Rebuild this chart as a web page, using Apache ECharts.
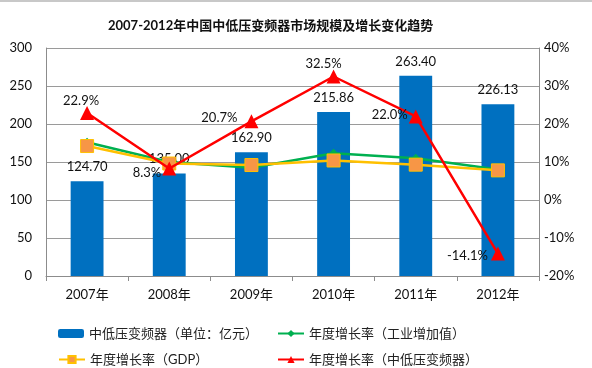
<!DOCTYPE html>
<html><head><meta charset="utf-8">
<script src="https://cdn.jsdelivr.net/npm/echarts@6/dist/echarts.min.js"></script>
<style>html,body{margin:0;padding:0;background:#fff}#c{width:592px;height:368px;border-top:2px solid #c8c8c8;box-sizing:border-box}</style>
</head><body><div id="c"></div>
<script>
const categories = ['2007年','2008年','2009年','2010年','2011年','2012年'];
const marketSize = [124.70, 135.00, 162.90, 215.86, 263.40, 226.13];
const growthIndustry = [15.2, 10.0, 8.5, 12.3, 11.0, 8.0];
const growthGDP = [14.2, 9.6, 9.2, 10.4, 9.3, 7.8];
const growthInverter = [22.9, 8.3, 20.7, 32.5, 22.0, -14.1];
const leftTicks = {min: 0, max: 300, interval: 50};
const rightTicks = {min: -20, max: 40, interval: 10};

const names = ['中低压变频器（单位：亿元）','年度增长率（工业增加值）','年度增长率（GDP）','年度增长率（中低压变频器）'];
const FONT = 'Lato, "Noto Sans CJK SC", sans-serif';
const chart = echarts.init(document.getElementById('c'));
const redLabelPos = ['top','left','left','top','left','left'];
const redLabelOff = [[-6,6],[4,4],[-2,-4],[-10,6],[4,-2],[2,2]];
const legendItem = (name, left, top) => ({
  data: [name], left, top, itemWidth: 26, itemHeight: 9, itemGap: 4,
  textStyle: {fontSize: 13, color: '#222', fontFamily: FONT}
});
chart.setOption({
  animation: false,
  textStyle: {fontFamily: FONT},
  title: {text: '2007-2012年中国中低压变频器市场规模及增长变化趋势', left: 103, top: 12,
    textStyle: {fontSize: 13, fontWeight: 'bold', color: '#111', fontFamily: FONT}},
  grid: {left: 46, right: 53, top: 46, bottom: 92},
  legend: [
    legendItem(names[0], 53, 320),
    legendItem(names[1], 272, 320),
    legendItem(names[2], 53, 346),
    legendItem(names[3], 272, 346)
  ],
  xAxis: {type: 'category', data: categories,
    axisLine: {lineStyle: {color: '#8c8c8c'}},
    axisTick: {show: true, length: 5, lineStyle: {color: '#8c8c8c'}},
    axisLabel: {color: '#111', fontSize: 13, margin: 12, fontFamily: FONT}},
  yAxis: [
    {type: 'value', min: leftTicks.min, max: leftTicks.max, interval: leftTicks.interval,
     axisLine: {show: true, lineStyle: {color: '#8c8c8c'}},
     axisTick: {show: false},
     splitLine: {lineStyle: {color: '#9a9a9a', width: 1}},
     axisLabel: {color: '#111', fontSize: 13, margin: 14, fontFamily: FONT}},
    {type: 'value', min: rightTicks.min, max: rightTicks.max, interval: rightTicks.interval,
     position: 'right',
     axisLine: {show: true, lineStyle: {color: '#8c8c8c'}},
     axisTick: {show: false},
     splitLine: {show: false},
     axisLabel: {color: '#111', fontSize: 13, margin: 5, formatter: '{value}%', fontFamily: FONT}}
  ],
  series: [
    {name: names[0], type: 'bar', data: marketSize, barWidth: '40%',
     itemStyle: {color: '#0070C0'},
     label: {show: true, position: 'top', formatter: p => p.value.toFixed(2),
       color: '#111', fontSize: 13, distance: 8, fontFamily: FONT}},
    {name: names[1], type: 'line', yAxisIndex: 1, data: growthIndustry,
     symbol: 'diamond', symbolSize: 9, lineStyle: {color: '#00B050', width: 2.5},
     itemStyle: {color: '#00B050'}, z: 3},
    {name: names[2], type: 'line', yAxisIndex: 1, data: growthGDP,
     symbol: 'rect', symbolSize: 13, lineStyle: {color: '#FFC000', width: 2.5},
     itemStyle: {color: '#F79646', borderColor: '#FFC000', borderWidth: 1}, z: 4},
    {name: names[3], type: 'line', yAxisIndex: 1,
     data: growthInverter.map((v, i) => ({value: v,
       label: {position: redLabelPos[i], offset: redLabelOff[i]}})),
     symbol: 'triangle', symbolSize: 14, lineStyle: {color: '#FF0000', width: 2.5},
     itemStyle: {color: '#FF0000'}, z: 5,
     label: {show: true, formatter: p => p.value.toFixed(1) + '%', color: '#111', fontSize: 13, fontFamily: FONT}}
  ]
});
</script></body></html>
